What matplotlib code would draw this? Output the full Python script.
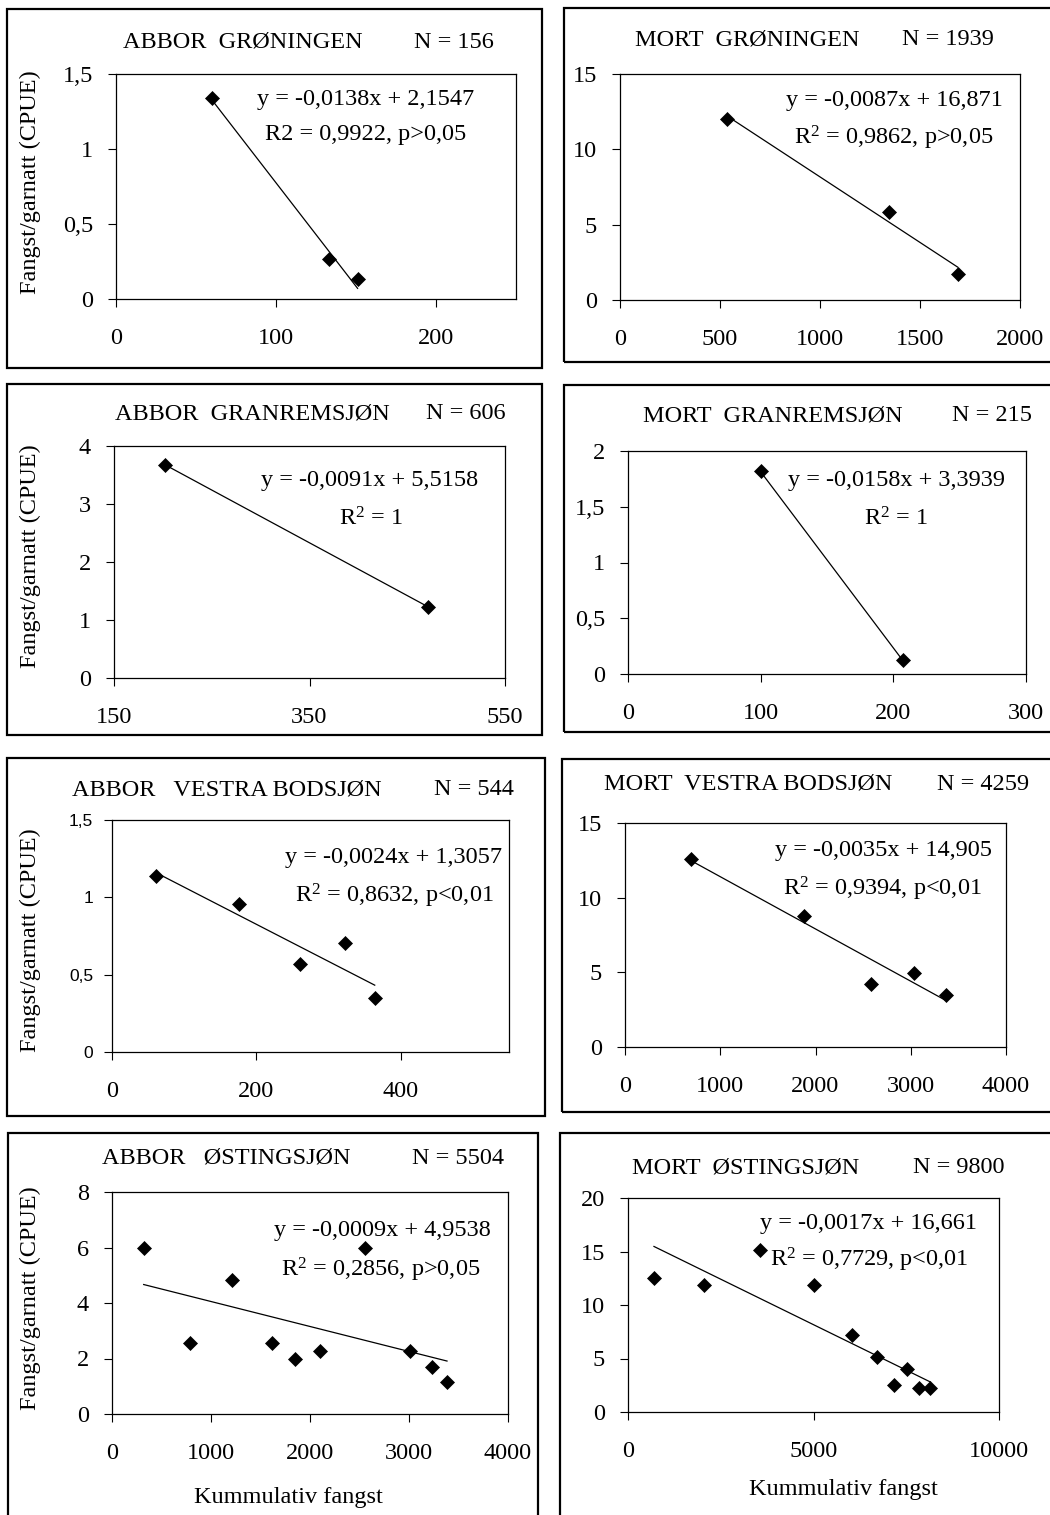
import numpy as np
import matplotlib
matplotlib.use("Agg")
import matplotlib.pyplot as plt
from matplotlib.patches import Rectangle

plt.rcParams['font.family'] = ['Liberation Serif', 'DejaVu Serif']
plt.rcParams['mathtext.fontset'] = 'custom'
plt.rcParams['mathtext.rm'] = 'Liberation Serif'
plt.rcParams['mathtext.it'] = 'Liberation Serif:italic'
plt.rcParams['mathtext.bf'] = 'Liberation Serif:bold'

# ---------------- data ----------------
species = ["ABBOR", "MORT", "ABBOR", "MORT", "ABBOR", "MORT", "ABBOR", "MORT"]
lakes = ["GRØNINGEN", "GRØNINGEN", "GRANREMSJØN", "GRANREMSJØN",
         "VESTRA BODSJØN", "VESTRA BODSJØN", "ØSTINGSJØN", "ØSTINGSJØN"]
sep = ["  ", "  ", "  ", "  ", "   ", "  ", "   ", "  "]
n_totals = [156, 1939, 606, 215, 544, 4259, 5504, 9800]

ab_gron_x = [60, 133, 151]
ab_gron_y = [1.34, 0.27, 0.135]
mo_gron_x = [535, 1345, 1688]
mo_gron_y = [12.0, 5.84, 1.70]
ab_gran_x = [202, 471]
ab_gran_y = [3.68, 1.22]
mo_gran_x = [100, 207]
mo_gran_y = [1.82, 0.125]
ab_vest_x = [61, 176, 261, 323, 364]
ab_vest_y = [1.14, 0.955, 0.57, 0.705, 0.35]
mo_vest_x = [689, 1881, 2587, 3035, 3374]
mo_vest_y = [12.6, 8.8, 4.19, 4.93, 3.51]
ab_ost_x = [320, 791, 1212, 1616, 1852, 2104, 2552, 3007, 3232, 3384]
ab_ost_y = [5.98, 2.56, 4.82, 2.56, 1.97, 2.28, 5.98, 2.28, 1.69, 1.16]
mo_ost_x = [700, 2056, 3546, 5009, 6050, 6724, 7172, 7513, 7845, 8142]
mo_ost_y = [12.5, 11.9, 15.1, 11.9, 7.2, 5.1, 2.5, 4.0, 2.2, 2.2]

xs_all = [ab_gron_x, mo_gron_x, ab_gran_x, mo_gran_x, ab_vest_x, mo_vest_x, ab_ost_x, mo_ost_x]
ys_all = [ab_gron_y, mo_gron_y, ab_gran_y, mo_gran_y, ab_vest_y, mo_vest_y, ab_ost_y, mo_ost_y]

slopes = [-0.0138, -0.0087, -0.0091, -0.0158, -0.0024, -0.0035, -0.0009, -0.0017]
intercepts = [2.1547, 16.871, 5.5158, 3.3939, 1.3057, 14.905, 4.9538, 16.661]
r2_values = ["0,9922", "0,9862", "1", "1", "0,8632", "0,9394", "0,2856", "0,7729"]
p_texts = ["p>0,05", "p>0,05", "", "", "p<0,01", "p<0,01", "p>0,05", "p<0,01"]
r2_superscript = [False, True, True, True, True, True, True, True]

xlims = [(0, 250), (0, 2000), (150, 550), (0, 300), (0, 550), (0, 4000), (0, 4000), (0, 10000)]
xticks = [[0, 100, 200], [0, 500, 1000, 1500, 2000], [150, 350, 550], [0, 100, 200, 300],
          [0, 200, 400], [0, 1000, 2000, 3000, 4000], [0, 1000, 2000, 3000, 4000],
          [0, 5000, 10000]]
ylims = [(0, 1.5), (0, 15), (0, 4), (0, 2), (0, 1.5), (0, 15), (0, 8), (0, 20)]
yticks = [[0, 0.5, 1, 1.5], [0, 5, 10, 15], [0, 1, 2, 3, 4], [0, 0.5, 1, 1.5, 2],
          [0, 0.5, 1, 1.5], [0, 5, 10, 15], [0, 2, 4, 6, 8], [0, 5, 10, 15, 20]]

ylabel_text = "Fangst/garnatt (CPUE)"
xlabel_text = "Kummulativ fangst"

# ---------------- layout (pixels) ----------------
W, H = 1050, 1515
axes_px = [(116, 74, 516, 299), (620, 74, 1020, 300),
           (114, 446, 505, 678), (628, 451, 1026, 674),
           (112, 820, 509, 1052), (625, 823, 1006, 1047),
           (112, 1192, 508, 1414), (628, 1198, 999, 1412)]
box_px = [(7, 9, 542, 368), (564, 8, 1062, 362),
          (7, 384, 542, 735), (564, 385, 1062, 732),
          (7, 758, 545, 1116), (562, 759, 1062, 1112),
          (8, 1133, 538, 1530), (560, 1133, 1062, 1530)]
title_name_c = [(243, 40), (747, 37), (252, 411), (773, 413),
                (227, 787), (748, 782), (226, 1156), (746, 1165)]
title_n_c = [(454, 40), (948, 37), (466, 411), (992, 413),
             (474, 787), (983, 782), (458, 1156), (959, 1165)]
eq1_c = [(366, 97), (894, 98), (370, 478), (896, 478),
         (394, 855), (883, 848), (382, 1228), (869, 1221)]
eq2_c = [(366, 132), (894, 137), (371, 518), (896, 518),
         (394, 894), (882, 887), (381, 1268), (869, 1258)]
ylabel_c = {0: 182, 2: 556, 4: 940, 6: 1298}
xlabel_c = {6: (288, 1497), 7: (843, 1490)}

FS = 17.5


def fx(x):
    return x / W


def fy(y):
    return 1 - y / H


def fmt(v):
    return f"{v:g}".replace('.', ',')


def fmt_num(v, spec):
    return format(v, spec).replace('.', ',')


fig = plt.figure(figsize=(W / 100, H / 100), dpi=100)

for i in range(8):
    # outer frame
    bl, bt, br, bb = box_px[i]
    fig.patches.append(Rectangle((fx(bl), fy(bb)), fx(br) - fx(bl), fy(bt) - fy(bb),
                                 transform=fig.transFigure, fill=False,
                                 edgecolor='black', linewidth=1.6, clip_on=False))

    l, t, r, b = axes_px[i]
    ax = fig.add_axes([fx(l), fy(b), fx(r) - fx(l), fy(t) - fy(b)])
    ax.set_xlim(*xlims[i])
    ax.set_ylim(*ylims[i])
    ax.set_xticks(xticks[i])
    ax.set_xticklabels([fmt(v) for v in xticks[i]])
    ax.set_yticks(yticks[i])
    ax.set_yticklabels([fmt(v) for v in yticks[i]])
    for s in ax.spines.values():
        s.set_linewidth(0.9)
        s.set_color('black')
    ax.tick_params(axis='both', direction='out', length=5.5, width=0.8, color='black')
    ax.tick_params(axis='x', pad=15.5, labelsize=FS)
    if i == 4:
        ax.tick_params(axis='y', pad=8, labelsize=12.5)
        for lab in ax.get_yticklabels():
            lab.set_fontfamily(['Liberation Sans', 'DejaVu Sans'])
    else:
        ax.tick_params(axis='y', pad=11, labelsize=FS)

    x = np.array(xs_all[i], dtype=float)
    y = np.array(ys_all[i], dtype=float)
    xl = np.array([x.min(), x.max()])
    ax.plot(xl, slopes[i] * xl + intercepts[i], color='black', linewidth=0.9, zorder=2)
    ax.plot(x, y, linestyle='none', marker='D', markersize=7, color='black',
            markeredgewidth=0.5, zorder=3, clip_on=False)

    # titles
    name = species[i] + sep[i] + lakes[i]
    fig.text(fx(title_name_c[i][0]), fy(title_name_c[i][1] + 8), name,
             ha='center', va='baseline', fontsize=FS)
    fig.text(fx(title_n_c[i][0]), fy(title_n_c[i][1] + 8), f"N = {n_totals[i]}",
             ha='center', va='baseline', fontsize=FS)

    # equation
    eq = f"y = {fmt_num(slopes[i], '.4f')}x + {fmt_num(intercepts[i], '.5g')}"
    fig.text(fx(eq1_c[i][0]), fy(eq1_c[i][1] + 8), eq,
             ha='center', va='baseline', fontsize=FS)
    rlab = r"R$^{\mathrm{2}}$" if r2_superscript[i] else "R2"
    r2 = f"{rlab} = {r2_values[i]}"
    if p_texts[i]:
        r2 += f", {p_texts[i]}"
    fig.text(fx(eq2_c[i][0]), fy(eq2_c[i][1] + 8), r2,
             ha='center', va='baseline', fontsize=FS)

    if i in ylabel_c:
        fig.text(fx(30), fy(ylabel_c[i]), ylabel_text, rotation=90,
                 ha='center', va='center', fontsize=FS)
    if i in xlabel_c:
        cx, cy = xlabel_c[i]
        fig.text(fx(cx), fy(cy), xlabel_text, ha='center', va='center', fontsize=FS)

fig.savefig("out.png", dpi=100, facecolor='white')
